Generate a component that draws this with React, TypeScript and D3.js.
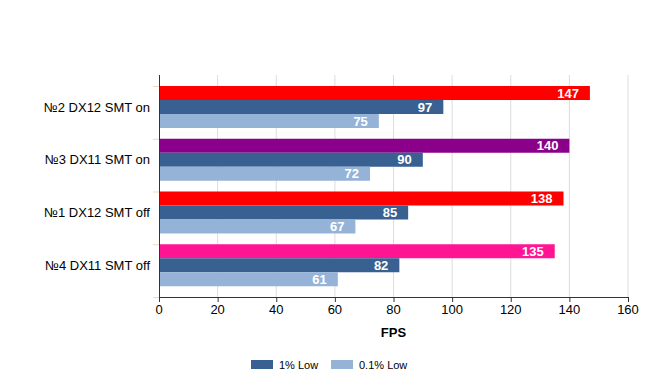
import * as d3 from "d3";
import { useEffect, useRef } from "react";

const categories = ["№2 DX12 SMT on", "№3 DX11 SMT on", "№1 DX12 SMT off", "№4 DX11 SMT off"];
const avgFps = [147, 140, 138, 135];
const avgColors = ["#ff0000", "#8b008b", "#ff0000", "#ff1493"];
const low1 = [97, 90, 85, 82];
const low01 = [75, 72, 67, 61];
const xTicks = [0, 20, 40, 60, 80, 100, 120, 140, 160];
const legendItems = [
  { name: "1% Low", color: "#386192" },
  { name: "0.1% Low", color: "#95b3d7" },
];

const W = 665;
const H = 390;
const FONT = "'Liberation Sans', Arial, sans-serif";

export default function App() {
  const ref = useRef<SVGSVGElement>(null);

  useEffect(() => {
    if (!ref.current) return;
    const svg = d3.select(ref.current);
    svg.selectAll("*").remove();

    const left = 159;
    const right = 628;
    const top = 75;
    const bottom = 297;

    const x = d3.scaleLinear().domain([0, 160]).range([left, right]);
    const y = d3.scaleBand<string>().domain(categories).range([86, bottom]);
    const barH = 14;

    // grid
    svg
      .append("g")
      .selectAll("line")
      .data(xTicks.slice(1))
      .enter()
      .append("line")
      .attr("x1", (d) => x(d))
      .attr("x2", (d) => x(d))
      .attr("y1", top)
      .attr("y2", bottom)
      .attr("stroke", "#dcdcdc")
      .attr("stroke-width", 1);

    const series = [
      { values: avgFps, color: (i: number) => avgColors[i] },
      { values: low1, color: () => legendItems[0].color },
      { values: low01, color: () => legendItems[1].color },
    ];

    series.forEach((s, si) => {
      const g = svg.append("g");
      categories.forEach((c, i) => {
        const y0 = (y(c) as number) + si * barH;
        g.append("rect")
          .attr("x", x(0))
          .attr("y", y0)
          .attr("width", x(s.values[i]) - x(0))
          .attr("height", barH)
          .attr("fill", s.color(i));
        g.append("text")
          .attr("x", x(s.values[i]) - 11)
          .attr("y", y0 + barH / 2)
          .attr("dy", "0.36em")
          .attr("text-anchor", "end")
          .attr("fill", "#fff")
          .attr("font-family", FONT)
          .attr("font-size", 13)
          .attr("font-weight", "bold")
          .text(s.values[i]);
      });
    });

    // category ticks + labels
    const catTicks = [...categories.map((c) => y(c) as number), bottom];
    svg
      .append("g")
      .selectAll("line")
      .data(catTicks)
      .enter()
      .append("line")
      .attr("x1", left - 6)
      .attr("x2", left)
      .attr("y1", (d) => d + 0.5)
      .attr("y2", (d) => d + 0.5)
      .attr("stroke", "#f3d9bf");

    svg
      .append("g")
      .selectAll("text")
      .data(categories)
      .enter()
      .append("text")
      .attr("x", 150)
      .attr("y", (d) => (y(d) as number) + (barH * 3) / 2)
      .attr("dy", "0.36em")
      .attr("text-anchor", "end")
      .attr("font-family", FONT)
      .attr("font-size", 13)
      .attr("fill", "#000")
      .text((d) => d);

    // axes lines
    svg
      .append("line")
      .attr("x1", left + 0.5)
      .attr("x2", left + 0.5)
      .attr("y1", top)
      .attr("y2", bottom)
      .attr("stroke", "#333");
    svg
      .append("line")
      .attr("x1", left)
      .attr("x2", right + 1)
      .attr("y1", bottom + 0.5)
      .attr("y2", bottom + 0.5)
      .attr("stroke", "#333");

    const xt = svg.append("g");
    xTicks.forEach((t) => {
      xt.append("line")
        .attr("x1", x(t) + 0.5)
        .attr("x2", x(t) + 0.5)
        .attr("y1", bottom)
        .attr("y2", bottom + 5)
        .attr("stroke", "#333");
      xt.append("text")
        .attr("x", x(t))
        .attr("y", bottom + 17)
        .attr("text-anchor", "middle")
        .attr("font-family", FONT)
        .attr("font-size", 13)
        .attr("fill", "#000")
        .text(t);
    });

    svg
      .append("text")
      .attr("x", (left + right) / 2)
      .attr("y", 337)
      .attr("text-anchor", "middle")
      .attr("font-family", FONT)
      .attr("font-size", 13)
      .attr("font-weight", "bold")
      .text("FPS");

    // legend
    const lg = svg.append("g");
    const lx = [251, 331];
    legendItems.forEach((item, i) => {
      lg.append("rect")
        .attr("x", lx[i])
        .attr("y", 360)
        .attr("width", 22)
        .attr("height", 9)
        .attr("fill", item.color);
      lg.append("text")
        .attr("x", lx[i] + 28)
        .attr("y", 368.5)
        .attr("font-family", FONT)
        .attr("font-size", 11)
        .attr("fill", "#000")
        .text(item.name);
    });
  }, []);

  return (
    <svg
      ref={ref}
      width={W}
      height={H}
      style={{ position: "absolute", left: 0, top: 0, background: "#fff" }}
    />
  );
}
